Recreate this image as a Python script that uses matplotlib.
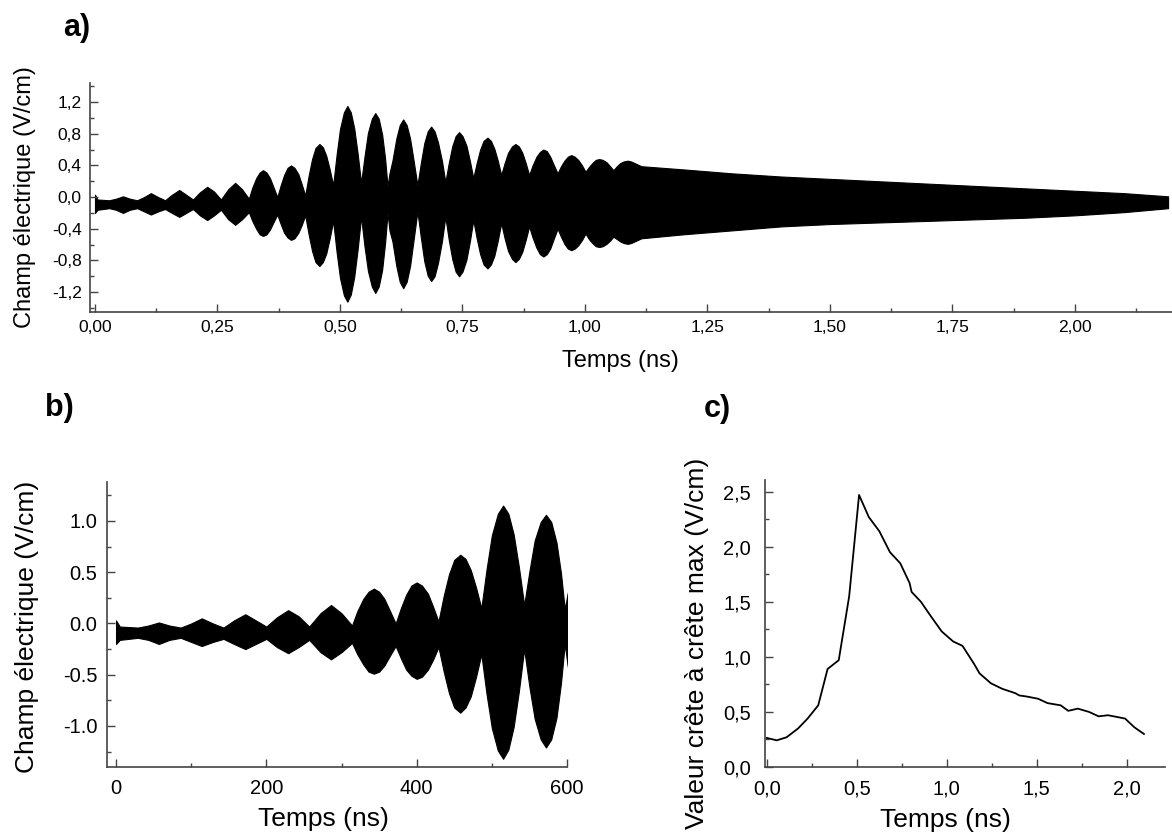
import numpy as np
import matplotlib
matplotlib.use("Agg")
import matplotlib.pyplot as plt
from matplotlib.ticker import FixedLocator, MultipleLocator, FuncFormatter

plt.rcParams['font.family'] = ['Liberation Sans', 'DejaVu Sans']
plt.rcParams['axes.unicode_minus'] = False

# ---- Panel a/b: envelope of the measured field (read from picture) ----
# time in ns, upper and lower envelope in V/cm
env_t = [0.000, 0.005, 0.029, 0.043, 0.057, 0.071, 0.086, 0.100, 0.114, 0.129,
         0.143, 0.157, 0.172, 0.186, 0.200, 0.214, 0.229, 0.243, 0.257, 0.272,
         0.286, 0.300, 0.314,
         0.321, 0.329, 0.336, 0.343, 0.350, 0.357, 0.364, 0.372,
         0.379, 0.386, 0.393, 0.400, 0.407, 0.415, 0.422, 0.429,
         0.436, 0.443, 0.450, 0.458, 0.465, 0.472, 0.479, 0.486,
         0.493, 0.500, 0.508, 0.515, 0.522, 0.529, 0.536, 0.543,
         0.550, 0.557, 0.565, 0.572, 0.579, 0.586, 0.592, 0.597,
         0.601, 0.607, 0.615, 0.622, 0.629, 0.636, 0.643, 0.650, 0.658,
         0.665, 0.672, 0.679, 0.686, 0.693, 0.700, 0.708, 0.715,
         0.722, 0.729, 0.736, 0.743, 0.750, 0.758, 0.765, 0.772,
         0.779, 0.786, 0.793, 0.801, 0.808, 0.815, 0.822, 0.829,
         0.836, 0.843, 0.851, 0.858, 0.865, 0.872, 0.879, 0.886,
         0.893, 0.901, 0.908, 0.915, 0.922, 0.929, 0.936, 0.944,
         0.951, 0.958, 0.965, 0.972, 0.979, 0.986, 0.994, 1.001,
         1.008, 1.015, 1.022, 1.029, 1.036, 1.044, 1.051, 1.058,
         1.065, 1.072, 1.079, 1.087, 1.094, 1.101, 1.115,
         1.200, 1.300, 1.400, 1.500, 1.600, 1.700, 1.800, 1.900, 2.000, 2.100,
         2.190]
env_up = [0.03, -0.03, -0.04, -0.02, 0.01, -0.02, -0.04, 0.00, 0.05, 0.00,
          -0.04, 0.03, 0.09, 0.03, -0.03, 0.06, 0.13, 0.07, -0.03, 0.10,
          0.18, 0.10, -0.02,
          0.12, 0.24, 0.31, 0.34, 0.31, 0.24, 0.13, 0.00,
          0.15, 0.28, 0.37, 0.40, 0.37, 0.29, 0.16, 0.02,
          0.27, 0.48, 0.62, 0.67, 0.63, 0.52, 0.35, 0.15,
          0.53, 0.86, 1.07, 1.15, 1.07, 0.87, 0.55, 0.18,
          0.51, 0.81, 0.99, 1.06, 0.99, 0.79, 0.49, 0.14,
          0.30, 0.46, 0.74, 0.91, 0.98, 0.91, 0.74, 0.47, 0.15,
          0.43, 0.68, 0.83, 0.89, 0.83, 0.69, 0.46, 0.19,
          0.43, 0.64, 0.77, 0.82, 0.77, 0.65, 0.46, 0.24,
          0.43, 0.60, 0.71, 0.75, 0.71, 0.61, 0.46, 0.28,
          0.43, 0.56, 0.64, 0.67, 0.64, 0.56, 0.43, 0.28,
          0.40, 0.51, 0.57, 0.60, 0.58, 0.51, 0.41, 0.30,
          0.39, 0.46, 0.51, 0.53, 0.51, 0.47, 0.40, 0.32,
          0.38, 0.43, 0.47, 0.48, 0.47, 0.44, 0.39, 0.34,
          0.39, 0.43, 0.45, 0.46, 0.45, 0.43, 0.39,
          0.35, 0.30, 0.26, 0.23, 0.20, 0.17, 0.14, 0.11, 0.08, 0.05,
          0.01]
env_lo = [-0.20, -0.16, -0.14, -0.16, -0.20, -0.16, -0.14, -0.18, -0.22, -0.18,
          -0.15, -0.20, -0.25, -0.20, -0.15, -0.23, -0.29, -0.23, -0.16, -0.28,
          -0.35, -0.28, -0.19,
          -0.30, -0.40, -0.47, -0.49, -0.47, -0.41, -0.32, -0.22,
          -0.34, -0.45, -0.51, -0.54, -0.52, -0.45, -0.35, -0.23,
          -0.47, -0.68, -0.82, -0.87, -0.82, -0.71, -0.52, -0.30,
          -0.69, -1.02, -1.24, -1.32, -1.23, -1.01, -0.66, -0.25,
          -0.62, -0.93, -1.13, -1.21, -1.13, -0.92, -0.58, -0.20,
          -0.42, -0.56, -0.87, -1.07, -1.15, -1.07, -0.87, -0.55, -0.18,
          -0.51, -0.81, -0.99, -1.06, -1.00, -0.83, -0.56, -0.25,
          -0.54, -0.78, -0.94, -1.00, -0.94, -0.79, -0.56, -0.29,
          -0.52, -0.72, -0.85, -0.90, -0.85, -0.74, -0.55, -0.33,
          -0.52, -0.68, -0.78, -0.82, -0.78, -0.69, -0.54, -0.37,
          -0.51, -0.64, -0.72, -0.75, -0.72, -0.65, -0.53, -0.40,
          -0.50, -0.59, -0.65, -0.67, -0.65, -0.61, -0.54, -0.46,
          -0.53, -0.58, -0.62, -0.63, -0.62, -0.59, -0.55, -0.50,
          -0.53, -0.56, -0.58, -0.59, -0.58, -0.56, -0.52,
          -0.47, -0.42, -0.37, -0.34, -0.32, -0.30, -0.28, -0.26, -0.23, -0.19,
          -0.14]

# ---- Panel c: peak-to-peak value ----
c_t = [0.000, 0.055, 0.110, 0.174, 0.227, 0.286, 0.338, 0.400, 0.458, 0.513,
       0.567, 0.626, 0.685, 0.742, 0.794, 0.805, 0.857, 0.916, 0.973, 1.036,
       1.088, 1.151, 1.183, 1.246, 1.309, 1.382, 1.403, 1.445, 1.508, 1.561,
       1.634, 1.676, 1.729, 1.792, 1.845, 1.897, 1.992, 2.044, 2.097]
c_v = [0.264, 0.242, 0.270, 0.350, 0.440, 0.560, 0.890, 0.970, 1.550, 2.470,
       2.270, 2.140, 1.950, 1.850, 1.670, 1.590, 1.500, 1.360, 1.230, 1.140,
       1.100, 0.940, 0.850, 0.760, 0.710, 0.670, 0.650, 0.640, 0.620, 0.580,
       0.560, 0.510, 0.530, 0.500, 0.460, 0.470, 0.440, 0.360, 0.300]

a_yticks = [-1.2, -0.8, -0.4, 0.0, 0.4, 0.8, 1.2]
a_xticks = [0.0, 0.25, 0.5, 0.75, 1.0, 1.25, 1.5, 1.75, 2.0]
b_yticks = [-1.0, -0.5, 0.0, 0.5, 1.0]
b_xticks = [0, 200, 400, 600]
c_xticks = [0.0, 0.5, 1.0, 1.5, 2.0]
c_yticks = [0.0, 0.5, 1.0, 1.5, 2.0, 2.5]

W, H = 1172, 840
fig = plt.figure(figsize=(W / 100, H / 100), dpi=100)

def px_axes(l, t, r, b):
    return fig.add_axes([l / W, 1 - b / H, (r - l) / W, (b - t) / H])

axa = px_axes(90, 83, 1172, 312)
axb = px_axes(107, 482, 567, 767)
axc = px_axes(765, 480, 1165, 767)

def style(ax, fs, pad_y, pad_x):
    for s in ['top', 'right']:
        ax.spines[s].set_visible(False)
    for s in ['left', 'bottom']:
        ax.spines[s].set_color('#444444')
        ax.spines[s].set_linewidth(1.2)
    ax.tick_params(which='major', direction='in', length=6, width=1.0,
                   color='#444444', labelsize=fs)
    ax.tick_params(which='minor', direction='in', length=3, width=1.0,
                   color='#444444')
    ax.tick_params(axis='y', which='major', pad=pad_y)
    ax.tick_params(axis='x', which='major', pad=pad_x)

comma = lambda d: FuncFormatter(lambda v, p: f"{v:.{d}f}".replace('.', ','))

# Panel a
t = np.array(env_t)
up = np.array(env_up)
lo = np.array(env_lo)
axa.fill_between(t, lo, up, color='black', lw=0.8, edgecolor='black')
axa.set_xlim(-0.0102, 2.198)
axa.set_ylim(-1.45, 1.44)
axa.xaxis.set_major_locator(FixedLocator(a_xticks))
axa.xaxis.set_minor_locator(MultipleLocator(0.125))
axa.yaxis.set_major_locator(FixedLocator(a_yticks))
axa.yaxis.set_minor_locator(MultipleLocator(0.2))
axa.xaxis.set_major_formatter(comma(2))
axa.yaxis.set_major_formatter(comma(1))
style(axa, 12.5, 6, 6)
axa.set_ylabel('Champ électrique (V/cm)', fontsize=17)
axa.yaxis.set_label_coords(-0.050, 0.5)
axa.set_xlabel('Temps (ns)', fontsize=17)
axa.xaxis.set_label_coords(0.49, -0.165)

# Panel b (first 600 ps of the same record)
mb = t <= 0.6015
axb.fill_between(t[mb] * 1000, lo[mb], up[mb], color='black', lw=0.8,
                 edgecolor='black')
axb.set_xlim(-12, 600)
axb.set_ylim(-1.40, 1.38)
axb.xaxis.set_major_locator(FixedLocator(b_xticks))
axb.xaxis.set_minor_locator(MultipleLocator(100))
axb.yaxis.set_major_locator(FixedLocator(b_yticks))
axb.yaxis.set_minor_locator(MultipleLocator(0.25))
axb.yaxis.set_major_formatter(FuncFormatter(lambda v, p: f"{v:.1f}"))
axb.xaxis.set_major_formatter(FuncFormatter(lambda v, p: f"{v:.0f}"))
style(axb, 14.5, 7, 9)
axb.set_ylabel('Champ électrique (V/cm)', fontsize=19)
axb.yaxis.set_label_coords(-0.148, 0.49)
axb.set_xlabel('Temps (ns)', fontsize=19)
axb.xaxis.set_label_coords(0.47, -0.142)

# Panel c
axc.plot(c_t, c_v, color='black', lw=1.3)
axc.set_xlim(-0.01, 2.214)
axc.set_ylim(0, 2.606)
axc.xaxis.set_major_locator(FixedLocator(c_xticks))
axc.xaxis.set_minor_locator(MultipleLocator(0.25))
axc.yaxis.set_major_locator(FixedLocator(c_yticks))
axc.yaxis.set_minor_locator(MultipleLocator(0.25))
axc.xaxis.set_major_formatter(comma(1))
axc.yaxis.set_major_formatter(comma(1))
style(axc, 14.5, 10, 9)
axc.set_ylabel('Valeur crête à crête max (V/cm)', fontsize=19)
axc.yaxis.set_label_coords(-0.14, 0.43)
axc.set_xlabel('Temps (ns)', fontsize=19)
axc.xaxis.set_label_coords(0.45, -0.142)

# Panel letters
fig.text(63 / W, 1 - 28 / H, 'a)', fontsize=22, fontweight='bold', va='center', ha='left')
fig.text(45 / W, 1 - 408 / H, 'b)', fontsize=22, fontweight='bold', va='center', ha='left')
fig.text(704 / W, 1 - 409 / H, 'c)', fontsize=22, fontweight='bold', va='center', ha='left')

fig.savefig('out.png', dpi=100)
